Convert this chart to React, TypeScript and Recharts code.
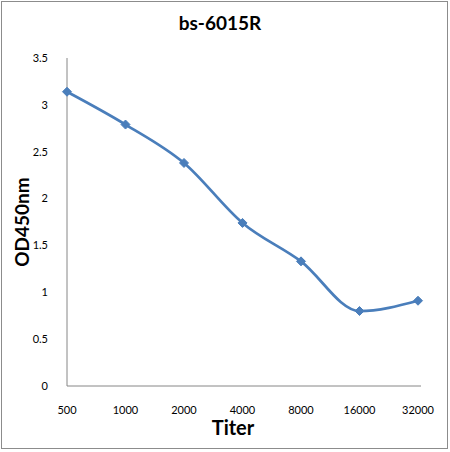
import { LineChart, Line, XAxis, YAxis } from "recharts";

document.body.style.margin = "0";

const titers = ["500", "1000", "2000", "4000", "8000", "16000", "32000"];
const od450 = [3.14, 2.79, 2.38, 1.74, 1.33, 0.8, 0.91];
const yTicks = [0, 0.5, 1, 1.5, 2, 2.5, 3, 3.5];

const chartData = titers.map((t, i) => ({ titer: t, od: od450[i] }));

const FONT = "Lato, 'Open Sans', sans-serif";

// diamond marker like Excel
const Diamond = (props: any) => {
  const { cx, cy } = props;
  if (cx == null || cy == null) return null;
  const r = 4.5;
  return (
    <path
      d={`M${cx},${cy - r} L${cx + r},${cy} L${cx},${cy + r} L${cx - r},${cy} Z`}
      fill="#4a7ebb"
      stroke="#4a7ebb"
    />
  );
};

export default function App() {
  return (
    <div
      style={{
        position: "relative",
        width: 450,
        height: 452,
        background: "#fff",
        fontFamily: FONT,
      }}
    >
      {/* outer frame */}
      <div
        style={{
          position: "absolute",
          left: 1,
          top: 1,
          width: 445,
          height: 446,
          border: "1px solid #8c8c8c",
        }}
      />
      <LineChart
        width={450}
        height={452}
        data={chartData}
        margin={{ top: 58, right: 29, bottom: 36, left: 0 }}
      >
        <XAxis
          dataKey="titer"
          axisLine={{ stroke: "#868686" }}
          tickLine={false}
          tickMargin={14}
          padding={{ left: 0, right: 3 }}
          interval={0}
          tick={{ fill: "#000", fontSize: 11, fontFamily: FONT }}
        />
        <YAxis
          width={67}
          domain={[0, 3.5]}
          ticks={yTicks}
          axisLine={{ stroke: "#868686" }}
          tickLine={false}
          tickMargin={13}
          tick={{ fill: "#000", fontSize: 11, fontFamily: FONT }}
        />
        <Line
          type="monotone"
          dataKey="od"
          stroke="#4a7ebb"
          strokeWidth={2.7}
          dot={<Diamond />}
          activeDot={false}
          isAnimationActive={false}
        />
      </LineChart>
      <div
        style={{
          position: "absolute",
          left: 0,
          width: 440,
          top: 11,
          textAlign: "center",
          fontWeight: 700,
          fontSize: 19,
        }}
      >
        bs-6015R
      </div>
      <div
        style={{
          position: "absolute",
          left: 0,
          width: 466,
          top: 417,
          lineHeight: "20px",
          textAlign: "center",
          fontWeight: 700,
          fontSize: 20,
        }}
      >
        Titer
      </div>
      <div
        style={{
          position: "absolute",
          left: 21,
          top: 222,
          transform: "translate(-50%, -50%) rotate(-90deg)",
          fontWeight: 700,
          fontSize: 19,
          whiteSpace: "nowrap",
        }}
      >
        OD450nm
      </div>
    </div>
  );
}
